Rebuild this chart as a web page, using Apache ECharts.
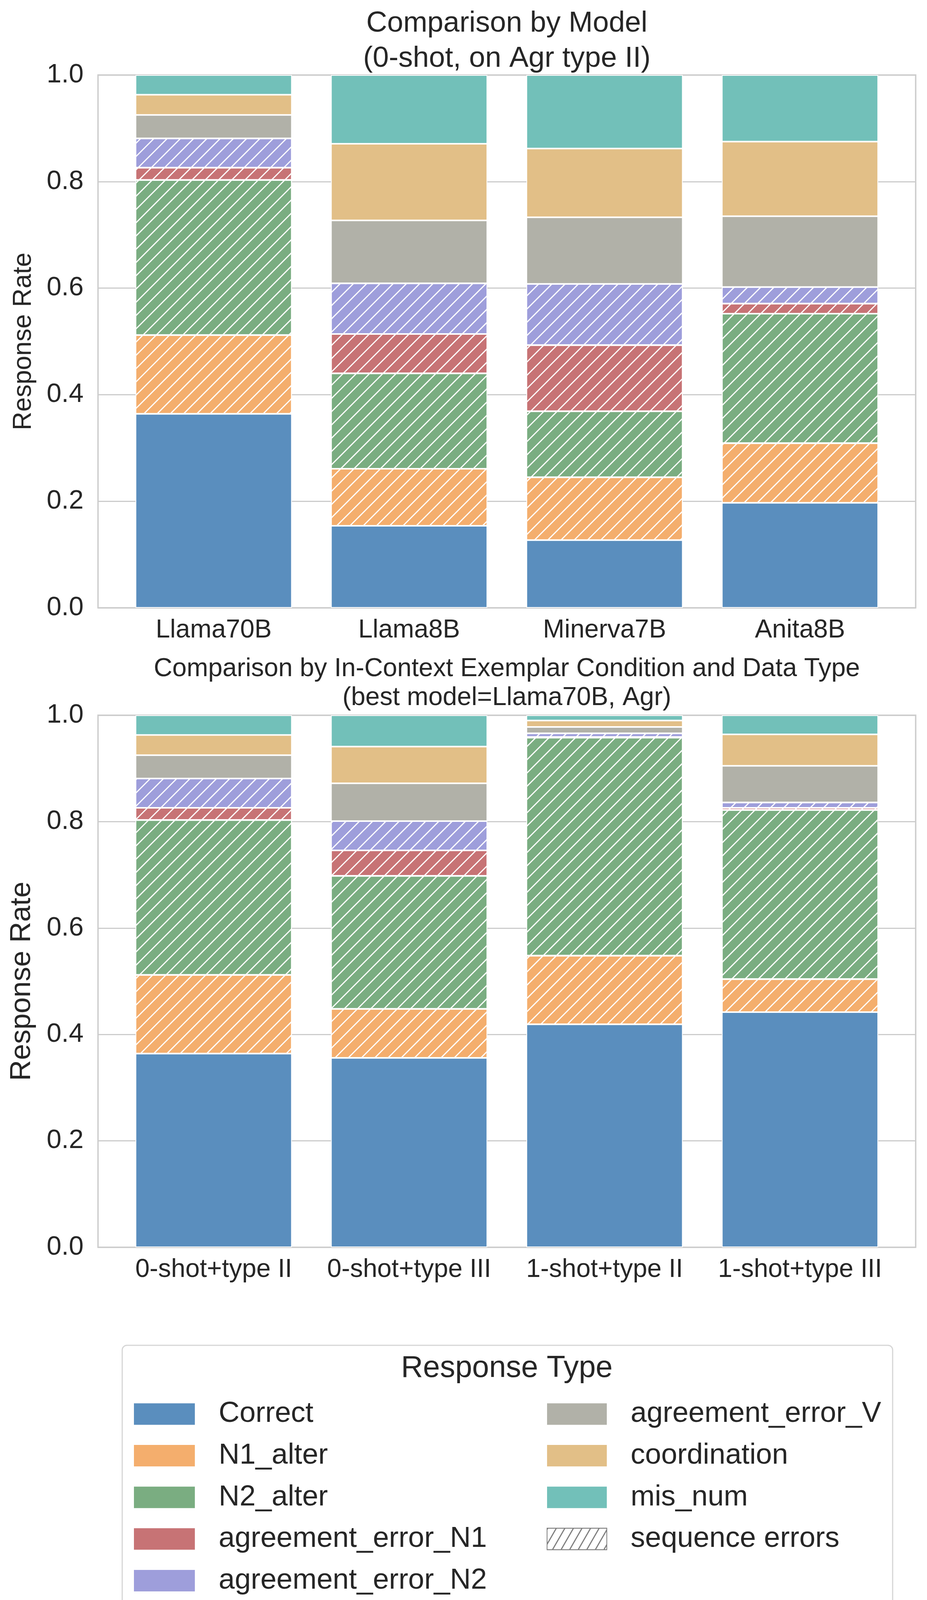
<!DOCTYPE html>
<html>
<head>
<meta charset="utf-8">
<script src="https://cdn.jsdelivr.net/npm/echarts@6/dist/echarts.min.js"></script>
<style>
html,body{margin:0;padding:0;background:#fff;}
#chart{width:2374px;height:4143px;}
</style>
</head>
<body>
<div id="chart"></div>
<script>
// ---------- data ----------
const responseTypes = ['Correct','N1_alter','N2_alter','agreement_error_N1','agreement_error_N2','agreement_error_V','coordination','mis_num'];
const hatchedTypes = ['N1_alter','N2_alter','agreement_error_N1','agreement_error_N2'];
const typeColors = ['#5a8ebe','#f4ae6d','#7aad81','#c77375','#9e9edb','#b1b1a8','#e2bf87','#72c0b9'];
const yTicks = [0, 0.2, 0.4, 0.6, 0.8, 1.0];

const modelCats = ['Llama70B','Llama8B','Minerva7B','Anita8B'];
const modelCorrect = [0.364, 0.154, 0.127, 0.197];
const modelN1Alter = [0.148, 0.107, 0.118, 0.112];
const modelN2Alter = [0.291, 0.179, 0.124, 0.243];
const modelErrN1   = [0.023, 0.074, 0.124, 0.019];
const modelErrN2   = [0.055, 0.095, 0.115, 0.031];
const modelErrV    = [0.044, 0.118, 0.125, 0.133];
const modelCoord   = [0.038, 0.144, 0.129, 0.140];
const modelMisNum  = [0.037, 0.129, 0.138, 0.125];

const condCats = ['0-shot+type II','0-shot+type III','1-shot+type II','1-shot+type III'];
const condCorrect = [0.364, 0.356, 0.419, 0.442];
const condN1Alter = [0.148, 0.092, 0.129, 0.062];
const condN2Alter = [0.291, 0.250, 0.410, 0.318];
const condErrN1   = [0.023, 0.048, 0.001, 0.004];
const condErrN2   = [0.055, 0.055, 0.007, 0.010];
const condErrV    = [0.044, 0.071, 0.012, 0.069];
const condCoord   = [0.038, 0.069, 0.012, 0.059];
const condMisNum  = [0.037, 0.059, 0.010, 0.036];

const topTitle = 'Comparison by Model\n(0-shot, on Agr type II)';
const bottomTitle = 'Comparison by In-Context Exemplar Condition and Data Type\n(best model=Llama70B, Agr)';
const yName = 'Response Rate';
const legendTitle = 'Response Type';
const hatchLegendName = 'sequence errors';

// ---------- build ----------
const FONT = '"Liberation Sans", Arial, "DejaVu Sans", sans-serif';
const TXT = '#262626';
const GRIDC = '#cccccc';

const hatchDecal = {symbol:'rect', symbolSize:1, dashArrayX:[1,0], dashArrayY:[3,21], rotation:-Math.PI/4, color:'#ffffff'};

const modelSeriesData = [modelCorrect, modelN1Alter, modelN2Alter, modelErrN1, modelErrN2, modelErrV, modelCoord, modelMisNum];
const condSeriesData = [condCorrect, condN1Alter, condN2Alter, condErrN1, condErrN2, condErrV, condCoord, condMisNum];

function makeSeries(dataArrays, axisIdx, stackName){
  return responseTypes.map((name, i) => ({
    type:'bar', name:name, stack:stackName,
    xAxisIndex:axisIdx, yAxisIndex:axisIdx,
    barWidth:'80%',
    data:dataArrays[i],
    itemStyle:Object.assign({color:typeColors[i], borderColor:'#ffffff', borderWidth:2},
      hatchedTypes.includes(name) ? {decal:hatchDecal} : {}),
    emphasis:{disabled:true},
    z:3
  }));
}

const series = [].concat(
  makeSeries(modelSeriesData, 1, 'top'),
  makeSeries(condSeriesData, 3, 'bottom'),
  [{type:'bar', name:hatchLegendName, stack:'top', xAxisIndex:1, yAxisIndex:1, barWidth:'80%',
    data:modelCats.map(()=>'-'),
    itemStyle:{color:'#ffffff', borderColor:'#7f7f7f', borderWidth:3,
      decal:{symbol:'rect', symbolSize:1, dashArrayX:[1,0], dashArrayY:[3,16], rotation:-Math.PI/3, color:'#7f7f7f'}}}]
);

const plotTop = {left:251, top:192, width:2094, height:1364};
const plotBot = {left:251, top:1831, width:2094, height:1362};
const inset = 46;

function frameGrid(p){ return {left:p.left, top:p.top, width:p.width, height:p.height, show:true, borderColor:GRIDC, borderWidth:3.5, backgroundColor:'#fff', containLabel:false, outerBoundsMode:'none'}; }
function barGrid(p){ return {left:p.left+inset, top:p.top, width:p.width-2*inset, height:p.height, containLabel:false, outerBoundsMode:'none'}; }

function frameY(gi, nameSize){
  return {type:'value', gridIndex:gi, min:0, max:1, interval:0.2,
    name:yName, nameLocation:'middle', nameGap:157,
    nameTextStyle:{fontSize:nameSize, color:TXT, fontFamily:FONT},
    axisLine:{show:false}, axisTick:{show:false},
    axisLabel:{fontSize:68, color:TXT, fontFamily:FONT, margin:37, formatter:v=>yTicks.includes(Math.round(v*10)/10)?v.toFixed(1):''},
    splitLine:{show:true, lineStyle:{color:GRIDC, width:3}}};
}
function hiddenY(gi){ return {type:'value', gridIndex:gi, min:0, max:1, show:false, splitLine:{show:false}}; }
function frameX(gi){ return {type:'value', gridIndex:gi, min:0, max:1, show:false, splitLine:{show:false}}; }
function catX(gi, cats){
  return {type:'category', gridIndex:gi, data:cats, axisLine:{show:false}, axisTick:{show:false},
    axisLabel:{fontSize:66, color:TXT, fontFamily:FONT, margin:25, interval:0}, splitLine:{show:false}};
}

const legendBox = {x:313, y:3444, w:1973, h:669};

const option = {
  animation:false,
  backgroundColor:'#ffffff',
  textStyle:{fontFamily:FONT},
  title:[
    {text:topTitle, left:1298, top:16, textAlign:'center', padding:0,
      textStyle:{fontSize:74, lineHeight:90, fontWeight:'normal', color:TXT, fontFamily:FONT}},
    {text:bottomTitle, left:1298, top:1676, textAlign:'center', padding:0,
      textStyle:{fontSize:66, lineHeight:74, fontWeight:'normal', color:TXT, fontFamily:FONT}},
    {text:legendTitle, left:1298, top:3458, textAlign:'center', padding:0,
      textStyle:{fontSize:78, lineHeight:90, fontWeight:'normal', color:TXT, fontFamily:FONT}}
  ],
  grid:[frameGrid(plotTop), barGrid(plotTop), frameGrid(plotBot), barGrid(plotBot)],
  xAxis:[frameX(0), catX(1, modelCats), frameX(2), catX(3, condCats)],
  yAxis:[frameY(0, 66), hiddenY(1), frameY(2, 74), hiddenY(3)],
  legend:[
    {orient:'vertical', left:338, top:3578, itemWidth:156, itemHeight:55, itemGap:32.6, icon:'rect', selectedMode:false,
      textStyle:{fontSize:74, lineHeight:74, color:TXT, fontFamily:FONT, padding:[0,0,0,56]},
      data:responseTypes.slice(0,5).map(n=>({name:n, itemStyle:{decal:'none', borderWidth:0}}))},
    {orient:'vertical', left:1395, top:3578, itemWidth:153, itemHeight:55, itemGap:32.6, icon:'rect', selectedMode:false,
      textStyle:{fontSize:74, lineHeight:74, color:TXT, fontFamily:FONT, padding:[0,0,0,56]},
      data:responseTypes.slice(5).map(n=>({name:n, itemStyle:{decal:'none', borderWidth:0}}))
        .concat([{name:hatchLegendName}])}
  ],
  graphic:[
    {type:'rect', z:-1, silent:true,
      shape:{x:legendBox.x, y:legendBox.y, width:legendBox.w, height:legendBox.h, r:12},
      style:{fill:'#ffffff', stroke:'#d6d6d6', lineWidth:3}}
  ],
  series:series
};

const chart = echarts.init(document.getElementById('chart'), null, {renderer:'canvas', width:2374, height:4143});
chart.setOption(option);
</script>
</body>
</html>
